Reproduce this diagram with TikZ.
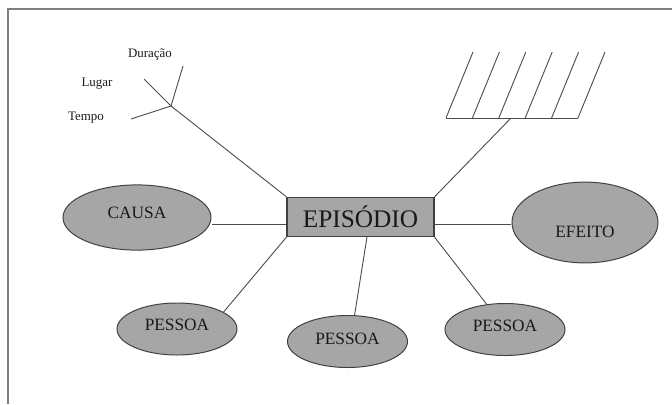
\documentclass[tikz,border=0pt]{standalone}
\usepackage{fontspec}
\setmainfont{Liberation Serif}
\usetikzlibrary{shapes.geometric,calc}
\definecolor{shade}{RGB}{166,166,166}
\definecolor{ink}{RGB}{25,25,25}
\tikzset{ %inner sep = 0mm,
  {frame line/.style} ={draw=black!50,line width=1.1pt},
  {edge/.style} ={draw=black!70,line width=0.65pt},
  {blob/.style} ={ellipse,draw=black!75,fill=shade,line width=0.7pt,inner sep=0},
  {cause/.style} ={blob,minimum width=3.7cm,minimum height=1.63cm},
  {effect/.style} ={blob,minimum width=3.65cm,minimum height=2.02cm},
  {person/.style} ={blob,minimum width=3cm,minimum height=1.3cm},
  {episode/.style} ={rectangle,draw=black!75,fill=shade,line width=0.8pt,
                minimum width=3.675cm,minimum height=0.98cm,text=ink,
                font=\fontsize{18}{20}\selectfont},
  {tag/.style} ={font=\fontsize{9.2}{10}\selectfont,text=ink,inner sep=0},
  every label/.style ={font=\fontsize{12.3}{14}\selectfont,text=ink},
  >=latex,
 }

\begin{document}
\begin{tikzpicture}[x=0.025cm,y=-0.025cm]
\useasboundingbox (0,0) rectangle (672,404);
\draw[frame line] (8,404) -- (8,9) -- (672,9);
\node[episode] (ep) at (360.5,217) {EPISÓDIO};
\node[cause,label={[yshift=3.6pt]center:CAUSA}] (causa) at (137,217.5) {};
\node[effect,label={[yshift=-7pt]center:EFEITO}] (efeito) at (585,222.5) {};
\node[person,label={[yshift=2.8pt]center:PESSOA}] (p1) at (177,329) {};
\node[person,label={[yshift=1.8pt]center:PESSOA}] (p2) at (347.5,341.5) {};
\node[person,label={[yshift=2.8pt]center:PESSOA}] (p3) at (505,329.5) {};
% tempo, lugar, duracao
\coordinate (fork) at (171,106);
\coordinate (dur) at (183,66);
\coordinate (lug) at (144,79);
\coordinate (tem) at (131,119);
\node[tag] (tdur) at (150,55) {Duração};
\node[tag] (tlug) at (97,84) {Lugar};
\node[tag] (ttem) at (86,117.5) {Tempo};
% pente
\coordinate (comb) at (511,118);
\coordinate (combl) at (446,118);
\coordinate (combr) at (578,118);
\path[edge] (ep.north west) edge (fork)
        (fork) edge (lug)
               edge (dur)
               edge (tem)
        (ep.north east) edge (comb)
        (combl) edge (combr)
        ([yshift=-5pt]ep.west) edge ([yshift=-5pt]ep.west -| causa.east)
        ([yshift=-5pt]ep.east) edge ([yshift=-5pt]ep.east -| efeito.west)
        (ep.south west) edge (p1.20)
        ([xshift=4.6pt]ep.south) edge (p2.75)
        (ep.south east) edge (p3.126);
\foreach \i in {0,...,5}
  \draw[edge] ($(combl)+(26.4*\i,0)$) -- ++(27,-66);
\end{tikzpicture}
\end{document}
